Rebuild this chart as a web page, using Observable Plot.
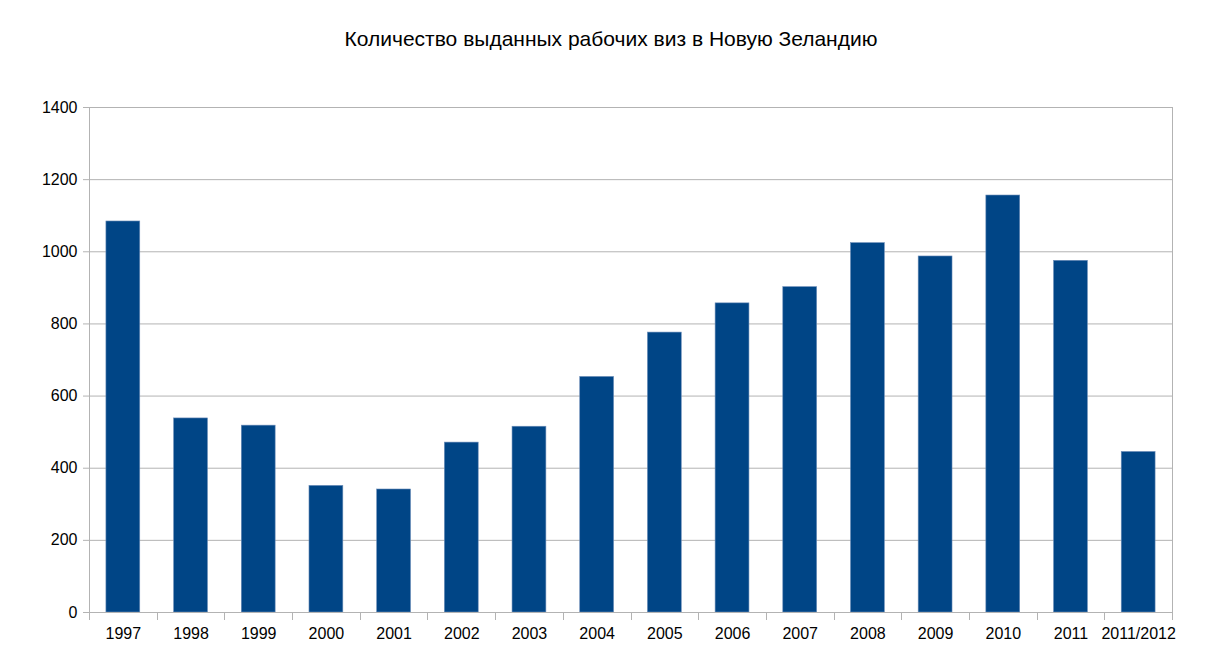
<!DOCTYPE html>
<html>
<head>
<meta charset="utf-8">
<script src="https://cdn.jsdelivr.net/npm/d3@7"></script>
<script src="https://cdn.jsdelivr.net/npm/@observablehq/plot@0.6"></script>
<style>
  html, body { margin: 0; padding: 0; background: #fff; }
  #wrap { position: relative; width: 1226px; height: 669px; overflow: hidden; }
  #title { position: absolute; left: 0; top: 27px; width: 1222px; text-align: center;
           font-family: "Liberation Sans", Arial, sans-serif; font-size: 21px; color: #000; }
  #chart { position: absolute; left: 0; top: 0; }
</style>
</head>
<body>
<div id="wrap">
  <div id="chart"></div>
  <div id="title">Количество выданных рабочих виз в Новую Зеландию</div>
</div>
<script>
const years = ["1997","1998","1999","2000","2001","2002","2003","2004","2005","2006","2007","2008","2009","2010","2011","2011/2012"];
const visas = [1084, 538, 518, 351, 341, 471, 515, 653, 776, 857, 902, 1024, 987, 1156, 975, 445];
const yTicks = [0, 200, 400, 600, 800, 1000, 1200, 1400];

const data = years.map((y, i) => ({year: y, value: visas[i]}));
const gridColor = "#b3b3b3";

// boundary ticks and side frame lines, computed from the band scale
function boundaries(index, scales, values, dimensions) {
  const x = scales.x, y = scales.y;
  const g = d3.create("svg:g");
  const n = years.length;
  const step = x.step ? x.step() : (dimensions.width - dimensions.marginLeft - dimensions.marginRight) / n;
  const r0 = x(years[0]) - step * 0.25;
  const y0 = y(0), yTop = y(1400);
  for (let i = 0; i <= n; i++) {
    const px = Math.round(r0 + i * step) + 0.5;
    const full = (i === 0 || i === n);
    g.append("line")
      .attr("x1", px).attr("x2", px)
      .attr("y1", full ? yTop : y0).attr("y2", y0 + 8)
      .attr("stroke", gridColor).attr("stroke-width", 1);
  }
  return g.node();
}

const chart = Plot.plot({
  width: 1226,
  height: 669,
  marginLeft: 89,
  marginRight: 54,
  marginTop: 107,
  marginBottom: 57,
  style: { fontFamily: "'Liberation Sans', Arial, sans-serif", fontSize: "16px", color: "#000", background: "#fff" },
  x: { domain: years, paddingInner: 0.5, paddingOuter: 0.25, round: false, label: null },
  y: { domain: [0, 1400], label: null },
  marks: [
    Plot.gridY(yTicks, { stroke: gridColor, strokeOpacity: 1, strokeWidth: 1 }),
    Plot.barY(data, { x: "year", y: "value", fill: "#004586", stroke: "#6a8cb8", strokeWidth: 0.6 }),
    Plot.ruleY([0], { stroke: gridColor, strokeWidth: 1 }),
    boundaries,
    Plot.axisY(yTicks, { tickSize: 6, tickPadding: 6, stroke: gridColor, fill: "#000", fontSize: 16, tickFormat: d => String(d), label: null }),
    Plot.axisX({ tickSize: 0, tickPadding: 15, fill: "#000", fontSize: 16, label: null })
  ]
});
document.getElementById("chart").appendChild(chart);
</script>
</body>
</html>
